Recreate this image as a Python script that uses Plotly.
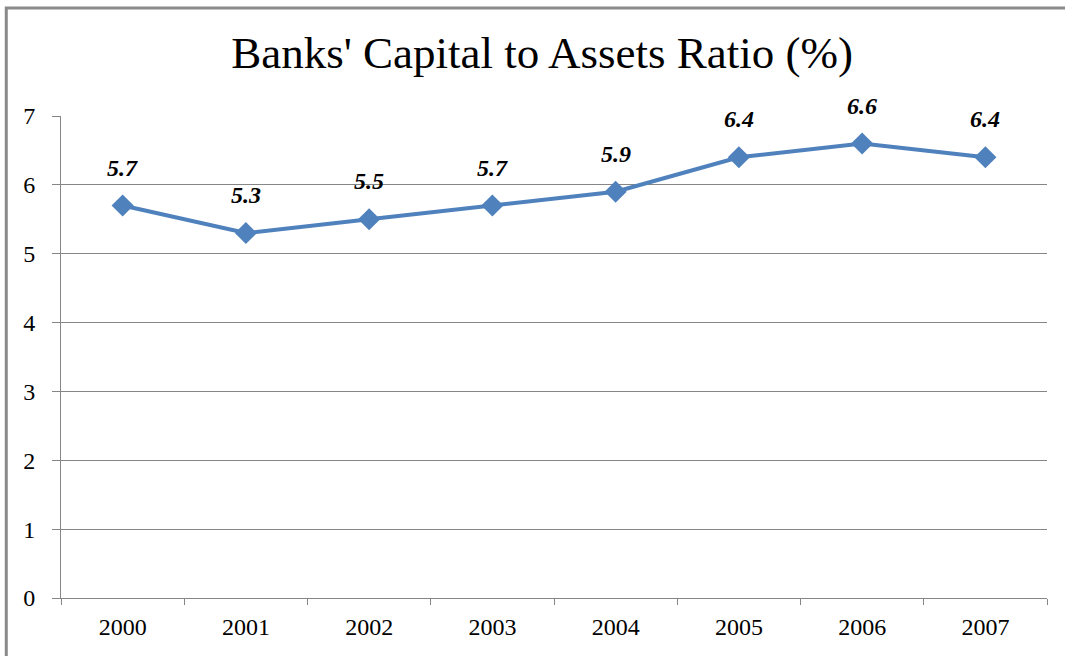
import plotly.graph_objects as go

years = ["2000", "2001", "2002", "2003", "2004", "2005", "2006", "2007"]
ratio = [5.7, 5.3, 5.5, 5.7, 5.9, 6.4, 6.6, 6.4]
y_ticks = [0, 1, 2, 3, 4, 5, 6, 7]

blue = "#4F81BD"
grey = "#868686"
serif = "Liberation Serif, Times New Roman, serif"

fig = go.Figure()
fig.add_trace(go.Scatter(
    x=years, y=ratio, mode="lines+markers",
    line=dict(color=blue, width=4),
    marker=dict(symbol="diamond", size=17, color=blue),
    hoverinfo="x+y", showlegend=False,
))

# value labels above each point (category index as x position)
for i, v in enumerate(ratio):
    fig.add_annotation(
        x=i, y=v, xref="x", yref="y",
        text=f"<b><i>{v}</i></b>", showarrow=False,
        yshift=38, font=dict(family=serif, size=24, color="black"),
    )

# chart frame
fig.add_shape(
    type="rect", xref="paper", yref="paper",
    x0=-0.0555, x1=1.1, y0=-0.3, y1=1.224,
    line=dict(color="#8a8a8a", width=3), layer="below",
)

fig.update_layout(
    width=1065, height=656,
    margin=dict(l=61, r=18, t=116, b=58),
    paper_bgcolor="white", plot_bgcolor="white",
    title=dict(
        text="Banks' Capital to Assets Ratio (%)",
        x=0.509, xanchor="center", xref="container",
        y=0.92, yanchor="middle", yref="container",
        font=dict(family=serif, size=45, color="black"),
    ),
    font=dict(family=serif, size=24, color="black"),
    xaxis=dict(
        type="category", tickson="boundaries",
        ticks="outside", ticklen=6, tickcolor=grey, tickwidth=1,
        showline=True, linecolor=grey, linewidth=1,
        showgrid=False, ticklabelstandoff=7,
        tickfont=dict(family=serif, size=24),
        range=[-0.5, 7.5],
    ),
    yaxis=dict(
        range=[0, 7], tickvals=y_ticks,
        ticks="outside", ticklen=8, tickcolor=grey, tickwidth=1,
        showline=True, linecolor=grey, linewidth=1,
        showgrid=True, gridcolor=grey, gridwidth=1,
        zeroline=False, ticklabelstandoff=12,
        tickfont=dict(family=serif, size=24),
    ),
)

fig.write_html("out.html")
